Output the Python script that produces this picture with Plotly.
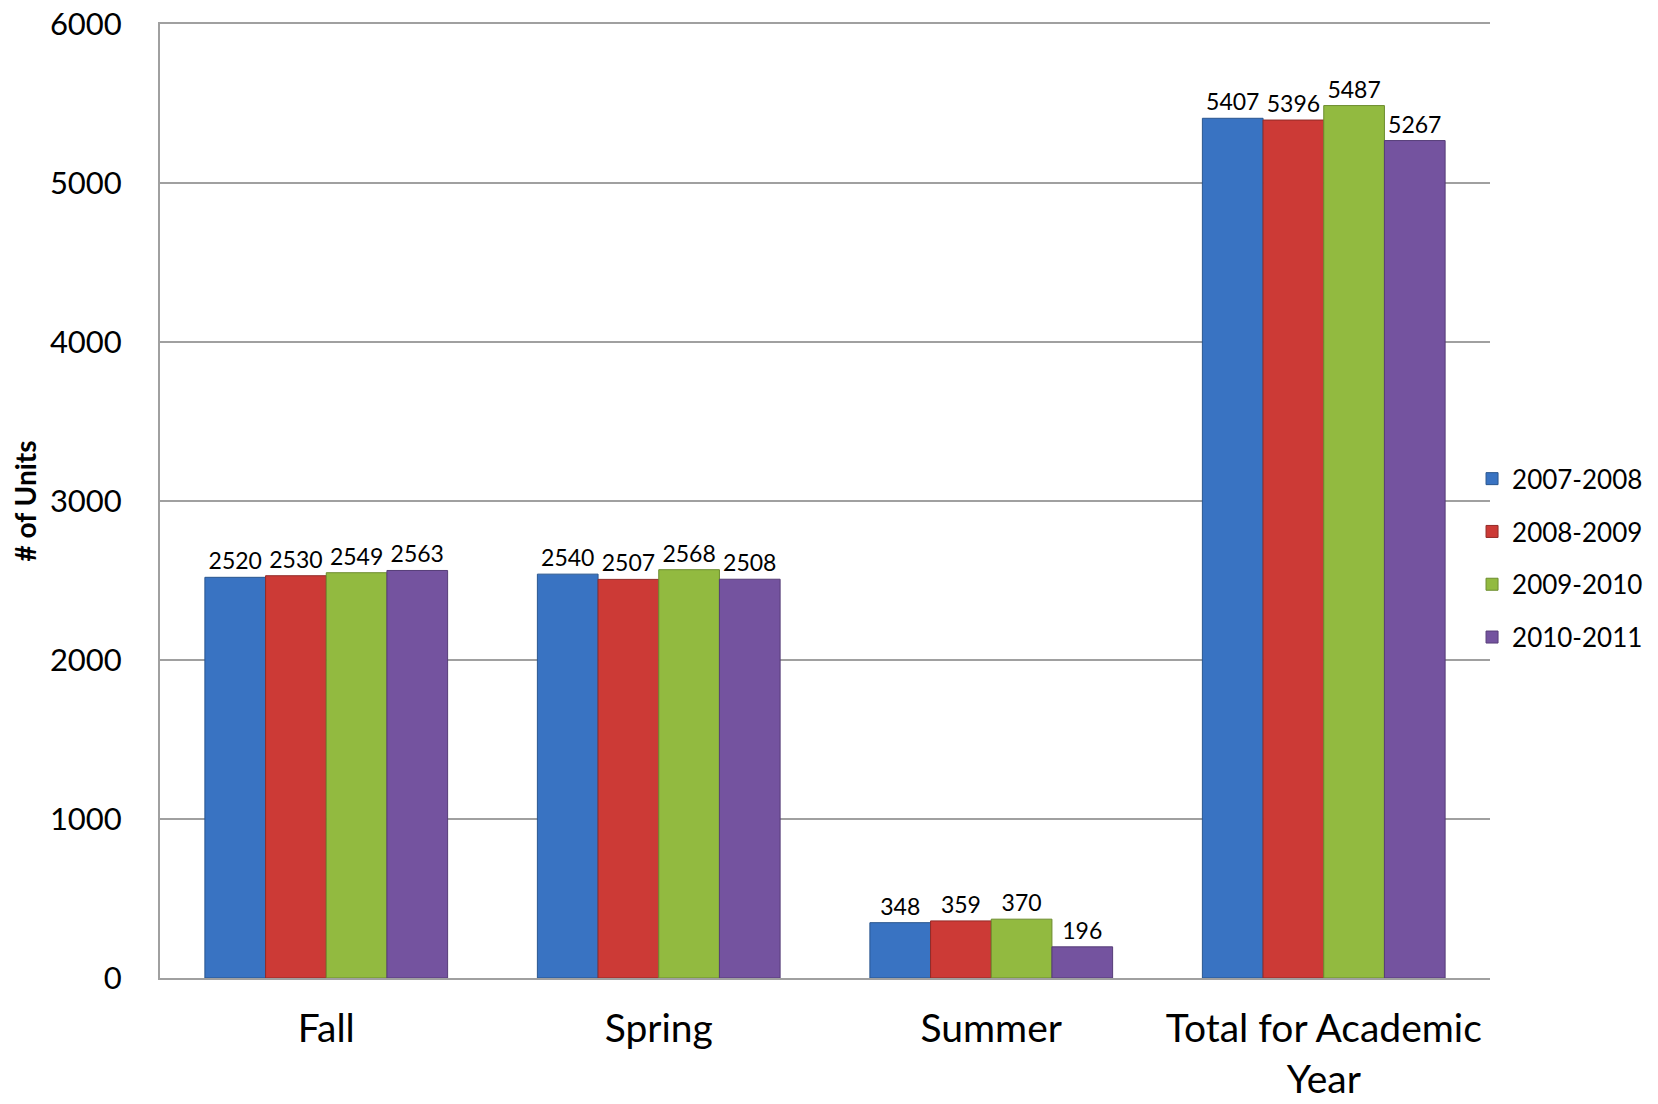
import plotly.graph_objects as go

categories = ["Fall", "Spring", "Summer", "Total for Academic<br>Year"]
series_names = ["2007-2008", "2008-2009", "2009-2010", "2010-2011"]
v_2007_2008 = [2520, 2540, 348, 5407]
v_2008_2009 = [2530, 2507, 359, 5396]
v_2009_2010 = [2549, 2568, 370, 5487]
v_2010_2011 = [2563, 2508, 196, 5267]
values = [v_2007_2008, v_2008_2009, v_2009_2010, v_2010_2011]
colors = ["#3973C2", "#CC3A36", "#92BA40", "#74539F"]
edge = ["#2A568F", "#932A27", "#6C8C2E", "#563D78"]

fig = go.Figure()
for i, (name, vals) in enumerate(zip(series_names, values)):
    fig.add_trace(go.Bar(
        x=categories, y=vals, name=name,
        marker=dict(color=colors[i], line=dict(color=edge[i], width=1)),
        text=[str(v) for v in vals], textposition="outside",
        textfont=dict(family="Lato", size=23, color="black"),
        cliponaxis=False, legendgroup=name,
    ))

fig.update_layout(
    width=1650, height=1096,
    margin=dict(l=152, r=168, t=16, b=126, autoexpand=False),
    paper_bgcolor="white", plot_bgcolor="white",
    barmode="group", bargap=0.27, bargroupgap=0,
    font=dict(family="Lato", color="black"),
    showlegend=True,
    legend=dict(x=0.9865, y=0.44, xanchor="left", yanchor="middle",
                font=dict(family="Lato", size=26, color="black"),
                tracegroupgap=16, traceorder="grouped",
                itemwidth=30, bgcolor="rgba(0,0,0,0)"),
    xaxis=dict(showline=True, mirror=True, linecolor="#A0A0A0", linewidth=2, automargin=False,
               tickfont=dict(family="Lato", size=39, color="black"),
               ticks="", ticklabelstandoff=15),
    yaxis=dict(range=[0, 6000], tickvals=[0, 1000, 2000, 3000, 4000, 5000, 6000],
               showgrid=True, automargin=False, ticklabeloverflow="allow",
               gridcolor="#A0A0A0", gridwidth=1.5,
               showline=True, linecolor="#A0A0A0", linewidth=2,
               zeroline=False, ticks="",
               tickfont=dict(family="Lato", size=31, color="black"),
               ticklabelstandoff=30,
               title=dict(text="<b># of Units</b>", font=dict(family="Lato", size=28, color="black"),
                          standoff=30)),
)
fig.write_html("out.html")
